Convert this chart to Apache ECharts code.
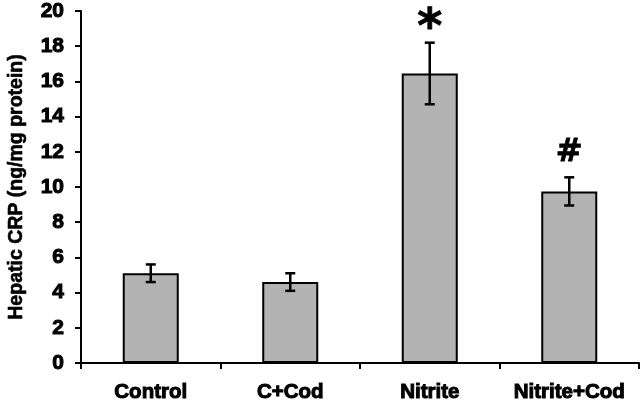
<!DOCTYPE html>
<html>
<head>
<meta charset="utf-8">
<script src="https://cdn.jsdelivr.net/npm/echarts@6/dist/echarts.min.js"></script>
<style>
  html, body { margin: 0; padding: 0; background: #fff; }
  #main { width: 644px; height: 402px; }
</style>
</head>
<body>
<div id="main"></div>
<script>
// data
const groups = ['Control', 'C+Cod', 'Nitrite', 'Nitrite+Cod'];
const means = [5.1, 4.6, 16.45, 9.75];
const errors = [0.5, 0.5, 1.75, 0.8];
const marks = ['', '', '*', '#'];
const yTicks = [0, 2, 4, 6, 8, 10, 12, 14, 16, 18, 20];

const FONT = '"Liberation Sans", Arial, sans-serif';
const MARKFONT = '"DejaVu Sans", sans-serif';
const chart = echarts.init(document.getElementById('main'));

const errData = means.map((m, i) => [i, m - errors[i], m + errors[i]]);

// heavy bold text, like the original figure
const heavy = { color: '#000', fontFamily: FONT, fontWeight: 'bold', textBorderColor: '#000', textBorderWidth: 1 };

const option = {
  animation: false,
  backgroundColor: '#fff',
  grid: { left: 81, right: 5, top: 11, bottom: 39, containLabel: false, outerBoundsMode: 'none' },
  xAxis: {
    type: 'category',
    data: groups,
    axisLine: { lineStyle: { color: '#000', width: 2 } },
    axisTick: { show: true, length: 6, lineStyle: { color: '#000', width: 2 } },
    axisLabel: Object.assign({ interval: 0, fontSize: 20.5, margin: 19 }, heavy)
  },
  yAxis: {
    type: 'value',
    min: yTicks[0],
    max: yTicks[yTicks.length - 1],
    interval: 2,
    name: 'Hepatic CRP (ng/mg protein)',
    nameLocation: 'middle',
    nameGap: 54,
    nameTextStyle: Object.assign({ fontSize: 19.5 }, heavy, { textBorderWidth: 0.6 }),
    splitLine: { show: false },
    axisLine: { show: true, lineStyle: { color: '#000', width: 2 } },
    axisTick: { show: true, length: 6, lineStyle: { color: '#000', width: 2 } },
    axisLabel: Object.assign({ fontSize: 21, margin: 17 }, heavy)
  },
  series: [
    {
      type: 'bar',
      data: means,
      barWidth: 56,
      itemStyle: { color: '#b3b3b3', borderColor: '#000', borderWidth: 2 }
    },
    {
      type: 'custom',
      data: errData,
      z: 5,
      renderItem: function (params, api) {
        const x = api.value(0);
        const lo = api.coord([x, api.value(1)]);
        const hi = api.coord([x, api.value(2)]);
        const cap = 5;
        const st = { stroke: '#000', lineWidth: 2.5 };
        const children = [
          { type: 'line', shape: { x1: hi[0], y1: hi[1], x2: lo[0], y2: lo[1] }, style: st },
          { type: 'line', shape: { x1: hi[0] - cap, y1: hi[1], x2: hi[0] + cap, y2: hi[1] }, style: st },
          { type: 'line', shape: { x1: lo[0] - cap, y1: lo[1], x2: lo[0] + cap, y2: lo[1] }, style: st }
        ];
        const m = marks[params.dataIndex];
        if (m) {
          children.push({
            type: 'text',
            style: {
              text: m,
              x: hi[0],
              y: hi[1] - (m === '*' ? 13 : 25),
              align: 'center',
              verticalAlign: 'middle',
              fill: '#000',
              stroke: '#000',
              lineWidth: 0.8,
              font: 'bold ' + (m === '*' ? 48 : 32) + 'px ' + MARKFONT
            }
          });
        }
        return { type: 'group', children: children };
      }
    }
  ]
};

chart.setOption(option);
</script>
</body>
</html>
